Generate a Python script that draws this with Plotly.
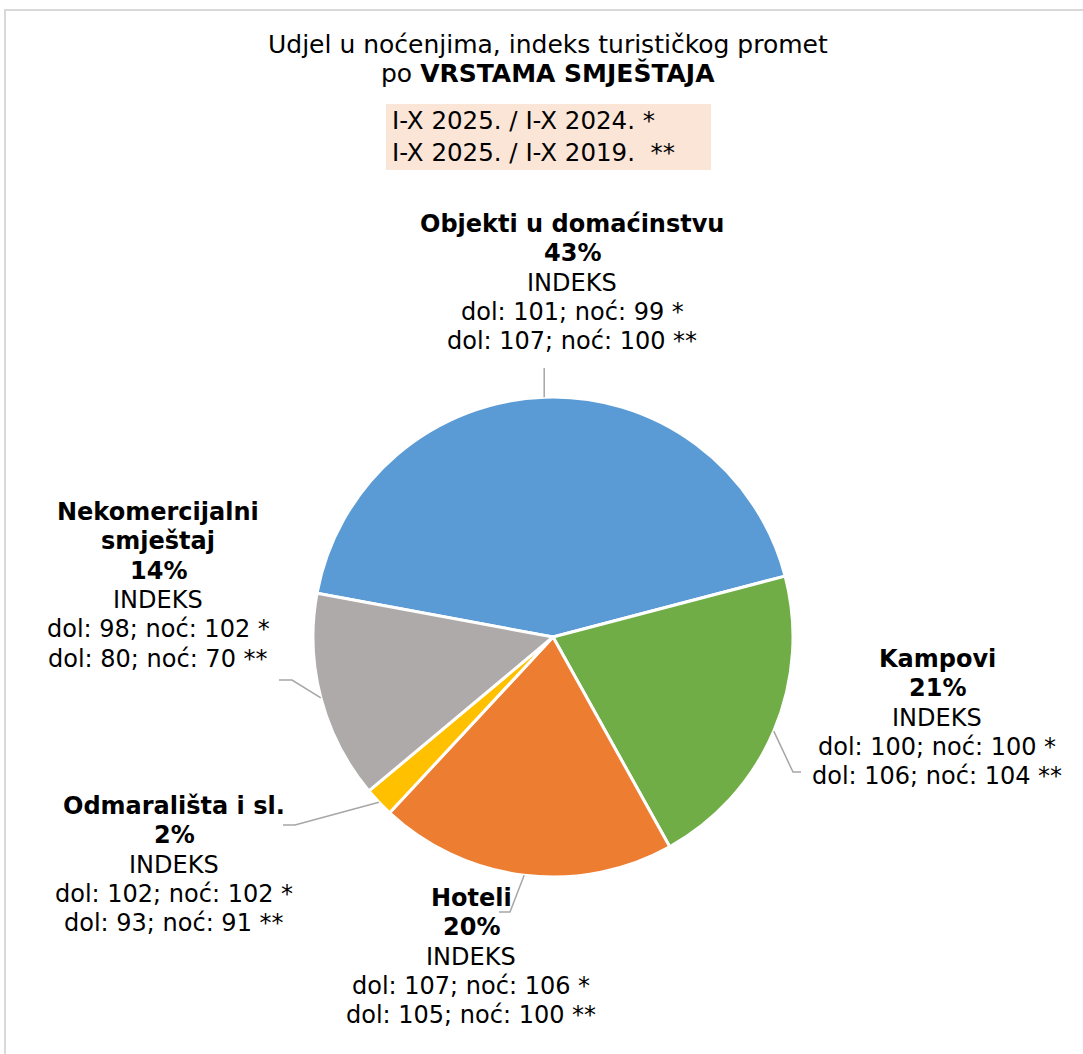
import math
import plotly.graph_objects as go

# ---------------- data ----------------
categories = ["Objekti u domaćinstvu", "Kampovi", "Hoteli", "Odmarališta i sl.", "Nekomercijalni smještaj"]
label_names = [["Objekti u domaćinstvu"], ["Kampovi"], ["Hoteli"], ["Odmarališta i sl."], ["Nekomercijalni", "smještaj"]]
shares = [43, 21, 20, 2, 14]
dol_vs_2024 = [101, 100, 107, 102, 98]
noc_vs_2024 = [99, 100, 106, 102, 102]
dol_vs_2019 = [107, 106, 105, 93, 80]
noc_vs_2019 = [100, 104, 100, 91, 70]
title_lines = ["Udjel u noćenjima, indeks turističkog promet", "po <b>VRSTAMA SMJEŠTAJA</b>"]
period_lines = ["I-X 2025. / I-X 2024. *", "I-X 2025. / I-X 2019.  **"]

# ---------------- styling / layout ----------------
W, H = 1083, 1054
colors = ["#5B9BD5", "#70AD47", "#ED7D31", "#FFC000", "#AEAAAA"]
CX, CY, R = 553, 637, 240          # pie centre / radius in px
ROTATION = -79.5
LABEL_FONT = "DejaVu Sans, Verdana, sans-serif"
FS = 24
LINE_H = 29.3
# label anchor (centre x, first-line y) and leader-line elbow points (px)
label_pos = [(572, 224), (937, 659), (471, 898), (174, 806), (158, 512)]
leader_elbows = [
    [(None, 368)],
    [(793, 772), (801, 772)],
    [(510, 912), (499, 912)],
    [(295, 825), (283, 825)],
    [(292, 680), (279, 680)],
]

def px(x):
    return x / W

def py(y):
    return 1 - y / H

fig = go.Figure(go.Pie(
    labels=categories,
    values=shares,
    sort=False,
    direction="clockwise",
    rotation=ROTATION,
    textinfo="none",
    hoverinfo="label+percent",
    marker=dict(colors=colors, line=dict(color="white", width=3)),
    domain=dict(x=[px(CX - R), px(CX + R)], y=[py(CY + R), py(CY - R)]),
    showlegend=False,
))

annotations = []
shapes = []

# frame
shapes.append(dict(type="rect", xref="paper", yref="paper",
                   x0=px(5), x1=px(W + 10), y0=py(H + 10), y1=py(10),
                   line=dict(color="#D9D9D9", width=2), fillcolor="rgba(0,0,0,0)", layer="below"))

# title
for i, t in enumerate(title_lines):
    annotations.append(dict(text=t, x=px(548), y=py(44 + i * 29.5), xref="paper", yref="paper",
                            xanchor="center", yanchor="middle", showarrow=False,
                            font=dict(family=LABEL_FONT, size=25, color="#000000")))

# period box
shapes.append(dict(type="rect", xref="paper", yref="paper",
                   x0=px(386), x1=px(711), y0=py(170), y1=py(104),
                   fillcolor="#FBE5D6", line=dict(width=0), layer="below"))
for i, t in enumerate(period_lines):
    annotations.append(dict(text=t, x=px(390), y=py(121 + i * 31), xref="paper", yref="paper",
                            xanchor="left", yanchor="middle", showarrow=False,
                            font=dict(family=LABEL_FONT, size=24.5, color="#000000")))

# slice labels + leader lines
total = sum(shares)
start = ROTATION
for k in range(len(categories)):
    span = shares[k] / total * 360
    mid = math.radians(start + span / 2)
    start += span
    ex = CX + R * math.sin(mid)
    ey = CY - R * math.cos(mid)

    pts = [(ex, ey)]
    for (x, y) in leader_elbows[k]:
        pts.append((ex if x is None else x, y))
    path = "M " + " L ".join(f"{px(x)},{py(y)}" for x, y in pts)
    shapes.append(dict(type="path", xref="paper", yref="paper", path=path,
                       line=dict(color="#A6A6A6", width=1.5)))

    lines = [(f"<b>{n}</b>") for n in label_names[k]]
    lines.append(f"<b>{shares[k]}%</b>")
    lines.append("INDEKS")
    lines.append(f"dol: {dol_vs_2024[k]}; noć: {noc_vs_2024[k]} *")
    lines.append(f"dol: {dol_vs_2019[k]}; noć: {noc_vs_2019[k]} **")
    lx, ly = label_pos[k]
    for j, t in enumerate(lines):
        annotations.append(dict(text=t, x=px(lx), y=py(ly + j * LINE_H), xref="paper", yref="paper",
                                xanchor="center", yanchor="middle", showarrow=False,
                                font=dict(family=LABEL_FONT, size=FS, color="#000000")))

fig.update_layout(
    width=W, height=H,
    margin=dict(l=0, r=0, t=0, b=0),
    paper_bgcolor="white",
    plot_bgcolor="white",
    annotations=annotations,
    shapes=shapes,
)

fig.write_html("out.html", config={"displayModeBar": False},
               post_script="document.body.style.margin='0px';")
